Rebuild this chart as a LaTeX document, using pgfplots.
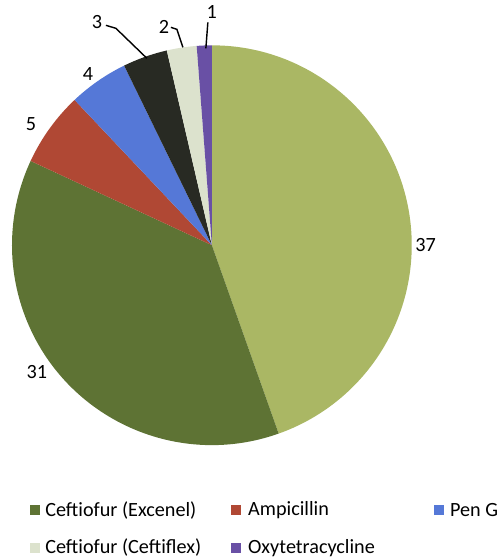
\documentclass[border=0pt]{standalone}
\usepackage{pgfplots}
\pgfplotsset{compat=1.18}
\usepackage{fontspec}
\setmainfont{Carlito}
\definecolor{cA}{RGB}{170,183,100}
\definecolor{cB}{RGB}{94,115,52}
\definecolor{cC}{RGB}{176,72,52}
\definecolor{cD}{RGB}{85,120,215}
\definecolor{cE}{RGB}{40,42,35}
\definecolor{cF}{RGB}{220,226,205}
\definecolor{cG}{RGB}{105,80,165}
\begin{document}
\begin{tikzpicture}
\begin{axis}[
  hide axis, scale only axis,
  width=10cm, height=11.2cm,
  xmin=0, xmax=500, ymin=0, ymax=560,
  clip=false,
]
\path (axis cs:0,0) rectangle (axis cs:500,560);
\def\s{90}
\foreach \v/\c in {37/cA,31/cB,5/cC,4/cD,3/cE,2/cF,1/cG}{
  \pgfmathsetmacro\e{\s-\v/83*360}
  \edef\temp{\noexpand\fill[\c] (axis cs:212,315) -- ++(\s:4cm) arc[start angle=\s, end angle=\e, radius=4cm] -- cycle;}
  \temp
  \global\let\s\e
}
\begin{scope}[font=\fontsize{11.5}{13}\selectfont, text=black]
\node at (axis cs:426,315) {37};
\node at (axis cs:37,188) {31};
\node at (axis cs:31,436) {5};
\node at (axis cs:88,486) {4};
\node at (axis cs:97,538) {3};
\node at (axis cs:164,533) {2};
\node at (axis cs:212,548) {1};
\end{scope}
\draw[black, line width=0.8pt] (axis cs:106,535) -- (axis cs:116,532) -- (axis cs:147,502);
\draw[black, line width=0.8pt] (axis cs:171,533) -- (axis cs:177,531) -- (axis cs:183,513);
\draw[black, line width=0.8pt] (axis cs:208,538) -- (axis cs:206,512);
\begin{scope}[font=\fontsize{11.5}{13}\selectfont, text=black, every node/.style={anchor=west, inner sep=0pt}]
\fill[cB] (axis cs:30,45) rectangle (axis cs:40,55);
\node at (axis cs:45,50) {Ceftiofur (Excenel)};
\fill[cC] (axis cs:231,45) rectangle (axis cs:241,55);
\node at (axis cs:248,50) {Ampicillin};
\fill[cD] (axis cs:434,45) rectangle (axis cs:444,55);
\node at (axis cs:450,50) {Pen G};
\fill[cF] (axis cs:30,7) rectangle (axis cs:40,17);
\node at (axis cs:45,12) {Ceftiofur (Ceftiflex)};
\fill[cG] (axis cs:231,7) rectangle (axis cs:241,17);
\node at (axis cs:248,12) {Oxytetracycline};
\end{scope}
\end{axis}
\end{tikzpicture}
\end{document}
